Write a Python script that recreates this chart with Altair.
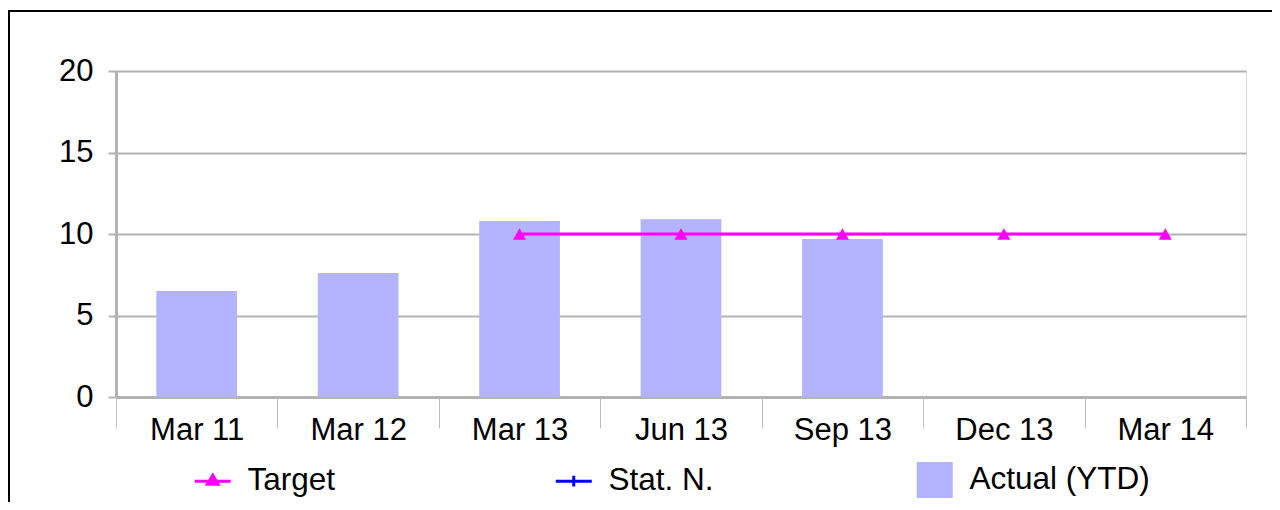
import altair as alt
import pandas as pd

categories = ["Mar 11", "Mar 12", "Mar 13", "Jun 13", "Sep 13", "Dec 13", "Mar 14"]
actual = [6.5, 7.6, 10.8, 10.9, 9.7, None, None]
target = [None, None, 10, 10, 10, 10, 10]
stat_n = [None, None, None, None, None, None, None]
series_names = ["Target", "Stat. N.", "Actual (YTD)"]
series_colors = ["#ff00ff", "#0000ff", "#b3b3ff"]
y_ticks = [0, 5, 10, 15, 20]

rows = []
for name, vals in zip(series_names, [target, stat_n, actual]):
    for c, v in zip(categories, vals):
        if v is not None:
            rows.append({"period": c, "series": name, "value": v})
df = pd.DataFrame(rows)

FONT = "Liberation Sans"
GRID = "#b3b3b3"

color_scale = alt.Scale(domain=series_names, range=series_colors)

shape_expr = (
    "datum.value === 'Target' ? 'M-1,0H1M-0.3,0.18L0,-0.33L0.3,0.18Z' : "
    "datum.value === 'Stat. N.' ? 'M-1,0H1M0,-0.3V0.3' : 'M-1,-1H1V1H-1Z'"
)

legend = alt.Legend(
    title=None,
    orient="none",
    legendX=81,
    legendY=393,
    direction="horizontal",
    gridAlign="all",
    columnPadding=121,
    symbolSize=1296,
    symbolType=alt.ExprRef(expr=shape_expr),
    symbolFillColor=alt.ExprRef(expr="scale('color', datum.value)"),
    symbolStrokeColor=alt.ExprRef(expr="scale('color', datum.value)"),
    symbolStrokeWidth=alt.ExprRef(expr="datum.value === 'Actual (YTD)' ? 0 : 3"),
    symbolOpacity=1,
    labelFont=FONT,
    labelFontSize=31.5,
    labelColor="black",
    labelOffset=19,
    labelLimit=400,
)

x_enc = alt.X(
    "period:N",
    sort=categories,
    scale=alt.Scale(domain=categories, paddingInner=0, paddingOuter=0),
    axis=alt.Axis(
        title=None,
        labelAngle=0,
        labelFont=FONT,
        labelFontSize=31,
        labelColor="black",
        tickBand="extent",
        tickSize=31,
        tickColor="#c0c0c0",
        tickWidth=1,
        domainColor=GRID,
        domainWidth=3,
        grid=False,
        labelPadding=-13,
    ),
)

y_enc = alt.Y(
    "value:Q",
    scale=alt.Scale(domain=[0, 20], nice=False),
    axis=alt.Axis(
        title=None,
        values=y_ticks,
        labelFont=FONT,
        labelFontSize=31,
        labelColor="black",
        tickSize=8,
        tickColor=GRID,
        tickWidth=2,
        domainColor=GRID,
        domainWidth=3,
        gridColor=GRID,
        gridWidth=2,
        labelPadding=15,
    ),
)

base = alt.Chart(df)

bars = base.mark_bar(width=alt.RelativeBandSize(band=0.5)).encode(
    x=x_enc,
    y=y_enc,
    color=alt.Color("series:N", scale=color_scale, legend=legend),
).transform_filter(alt.datum.series == "Actual (YTD)")

lines = base.mark_line(strokeWidth=3).encode(
    x=alt.X("period:N", sort=categories),
    y="value:Q",
    color=alt.Color("series:N", scale=color_scale, legend=legend),
).transform_filter(alt.datum.series != "Actual (YTD)")

points = base.mark_point(shape="triangle-up", filled=True, size=169, opacity=1).encode(
    x=alt.X("period:N", sort=categories),
    y="value:Q",
    color=alt.value("#ff00ff"),
).transform_filter(alt.datum.series == "Target")

frame = alt.Chart(alt.Data(values=[{}])).mark_rect(
    fill="transparent", stroke="black", strokeWidth=2
).encode(
    x=alt.value(-107), x2=alt.value(1400), y=alt.value(-60), y2=alt.value(700)
)

chart = (
    alt.layer(frame, bars, lines, points)
    .properties(
        width=1130,
        height=326,
        autosize=alt.AutoSizeParams(type="none"),
        padding={"left": 108, "top": 63, "right": 26, "bottom": 105},
    )
    .configure_view(stroke=GRID, strokeWidth=2.5)
    .configure(background="white")
)

chart.save("out.html", embed_options={"renderer": "svg", "actions": False})
